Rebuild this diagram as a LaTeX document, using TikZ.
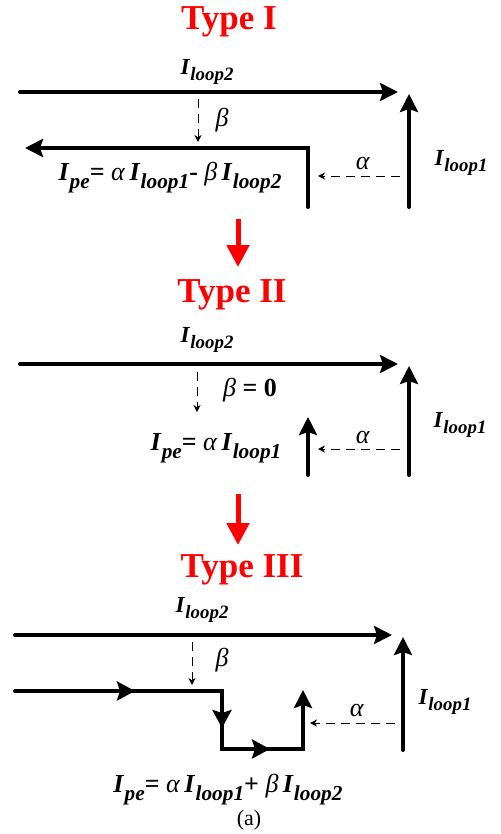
\documentclass[tikz,border=0pt]{standalone}
\usepackage{fontspec}
\setmainfont{Liberation Serif}
\usetikzlibrary{arrows.meta, positioning}

\newcommand{\cur}[1]{\textbf{\textit{I}}\kern0.3pt\raisebox{-0.3em}{\textbf{\textit{\scalebox{0.82}{#1}}}}}
\newcommand{\gr}[1]{\textnormal{\textit{#1}}}

\begin{document}
\begin{tikzpicture}[x=1pt, y=-1pt,
  every node/.style={inner sep=0pt},
  title/.style={text=red, font=\fontsize{35}{35}\selectfont\bfseries},
  lbl/.style={font=\fontsize{23}{23}\selectfont},
  eqn/.style={font=\fontsize{26}{26}\selectfont\bfseries},
  coef/.style={font=\fontsize{26}{26}\selectfont},
  wire/.style={line width=4pt, line cap=round, line join=miter, -{Stealth[length=18pt, width=18pt, inset=3pt]}},
  mid/.style={line width=4pt, -{Stealth[length=18pt, width=19pt, inset=3pt]}},
  share/.style={line width=0.9pt, dash pattern=on 9pt off 6pt, -{Stealth[length=7pt, width=7pt]}},
  step down/.style={red, line width=5pt, -{Triangle[length=22pt, width=22pt]}}]
  \useasboundingbox (0,0) rectangle (500,834);

  % Type I
  \node[title] (tI) at (229,22) {Type I};
  \coordinate (aI) at (20,92);   \coordinate (bI) at (398,92);
  \coordinate (cI) at (409,207); \coordinate (dI) at (409,94);
  \coordinate (eI) at (308,207); \coordinate (fI) at (308,148); \coordinate (gI) at (25,148);
  \draw[wire] (aI) -- (bI);
  \draw[wire] (cI) -- (dI);
  \draw[wire] (eI) -- (fI) -- (gI);
  \node[lbl] (l2I) at (207,72) {\cur{loop2}};
  \node[lbl] (l1I) at (461,163) {\cur{loop1}};
  \coordinate (sI) at (198,99); \coordinate (uI) at (198,142);
  \draw[share] (sI) -- (uI);
  \node[coef] (bcI) at (222,120) {\gr{β}};
  \coordinate (vI) at (400,176); \coordinate (wI) at (318,176);
  \draw[share] (vI) -- (wI);
  \node[coef] (acI) at (363,164) {\gr{α}};
  \node[eqn] (qI) at (170,178) {\cur{pe}= \gr{α}\,\cur{loop1}- \gr{β}\,\cur{loop2}};

  \coordinate (r1) at (238,219); \coordinate (r2) at (238,267);
  \draw[step down] (r1) -- (r2);

  % Type II
  \node[title] (tII) at (232,295) {Type II};
  \coordinate (aII) at (20,364);  \coordinate (bII) at (398,364);
  \coordinate (cII) at (409,475); \coordinate (dII) at (409,366);
  \coordinate (eII) at (308,475); \coordinate (fII) at (308,417);
  \draw[wire] (aII) -- (bII);
  \draw[wire] (cII) -- (dII);
  \draw[wire] (eII) -- (fII);
  \node[lbl] (l2II) at (207,340) {\cur{loop2}};
  \node[lbl] (l1II) at (460,425) {\cur{loop1}};
  \coordinate (sII) at (197,372); \coordinate (uII) at (197,412);
  \draw[share] (sII) -- (uII);
  \node[coef] (bcII) at (250,390) {\gr{β} \textbf{= 0}};
  \coordinate (vII) at (400,449); \coordinate (wII) at (318,449);
  \draw[share] (vII) -- (wII);
  \node[coef] (acII) at (363,437) {\gr{α}};
  \node[eqn] (qII) at (216,448) {\cur{pe}= \gr{α}\,\cur{loop1}};

  \coordinate (r3) at (238,494); \coordinate (r4) at (238,545);
  \draw[step down] (r3) -- (r4);

  % Type III
  \node[title] (tIII) at (242,570) {Type III};
  \coordinate (aIII) at (15,635);  \coordinate (bIII) at (392,635);
  \coordinate (cIII) at (403,750); \coordinate (dIII) at (403,637);
  \draw[wire] (aIII) -- (bIII);
  \draw[wire] (cIII) -- (dIII);
  \coordinate (p0) at (15,691);  \coordinate (p1) at (222,691);
  \coordinate (p2) at (222,749); \coordinate (p3) at (303,749);
  \coordinate (p4) at (303,690);
  \draw[wire] (p0) -- (p1) -- (p2) -- (p3) -- (p4);
  \coordinate (m1) at (135,691); \coordinate (m2) at (222,728); \coordinate (m3) at (270,749);
  \draw[mid] (p0) -- (m1);
  \draw[mid] (p1) -- (m2);
  \draw[mid] (p2) -- (m3);
  \node[lbl] (l2III) at (202,610) {\cur{loop2}};
  \node[lbl] (l1III) at (445,702) {\cur{loop1}};
  \coordinate (sIII) at (192,642); \coordinate (uIII) at (192,685);
  \draw[share] (sIII) -- (uIII);
  \node[coef] (bcIII) at (222,660) {\gr{β}};
  \coordinate (vIII) at (395,723); \coordinate (wIII) at (310,723);
  \draw[share] (vIII) -- (wIII);
  \node[coef] (acIII) at (357,710) {\gr{α}};
  \node[eqn] (qIII) at (228,790) {\cur{pe}= \gr{α}\,\cur{loop1}+ \gr{β}\,\cur{loop2}};
  \node[font=\fontsize{22}{22}\selectfont] (cap) at (249,820) {(a)};
\end{tikzpicture}
\end{document}
